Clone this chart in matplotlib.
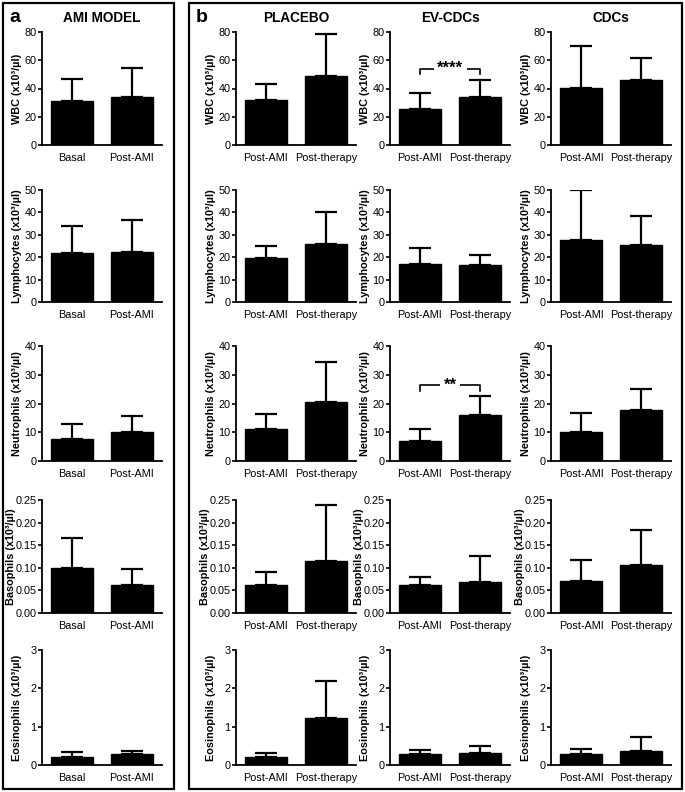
import numpy as np
import matplotlib
matplotlib.use('Agg')
import matplotlib.pyplot as plt
from matplotlib.patches import Rectangle

plt.rcParams['font.family'] = ['Liberation Sans', 'DejaVu Sans']

# row names / y-axis labels
cells = ['WBC', 'Lymphocytes', 'Neutrophils', 'Basophils', 'Eosinophils']
groups = ['AMI MODEL', 'PLACEBO', 'EV-CDCs', 'CDCs']
xlabels_a = ['Basal', 'Post-AMI']
xlabels_b = ['Post-AMI', 'Post-therapy']

# mean values (bar heights), order: cells x groups x [first, second]
means = {
    'AMI MODEL': [[31.5, 34.0], [22.0, 22.2], [7.7, 10.1], [0.099, 0.063], [0.20, 0.28]],
    'PLACEBO':   [[32.0, 48.5], [19.5, 25.7], [11.0, 20.6], [0.061, 0.115], [0.22, 1.22]],
    'EV-CDCs':   [[25.5, 34.3], [16.8, 16.6], [7.1, 16.1], [0.063, 0.069], [0.28, 0.31]],
    'CDCs':      [[40.2, 45.8], [27.6, 25.3], [10.2, 17.9], [0.070, 0.107], [0.28, 0.37]],
}
# top of the error bars
err_top = {
    'AMI MODEL': [[47.0, 54.5], [34.0, 36.7], [12.8, 15.6], [0.166, 0.097], [0.33, 0.37]],
    'PLACEBO':   [[43.0, 78.5], [25.0, 40.0], [16.4, 34.6], [0.091, 0.238], [0.32, 2.20]],
    'EV-CDCs':   [[37.0, 45.7], [23.9, 20.8], [11.2, 22.6], [0.080, 0.126], [0.38, 0.49]],
    'CDCs':      [[70.3, 61.6], [49.8, 38.4], [16.8, 25.1], [0.118, 0.184], [0.41, 0.72]],
}
ymax = [80, 50, 40, 0.25, 3]
ystep = [20, 10, 10, 0.05, 1]

# significance: (group, row) -> (bracket height, tick bottom, label)
signif = {('EV-CDCs', 0): (54.0, 50.5, '****'), ('EV-CDCs', 2): (26.4, 24.5, '**')}

W, H = 685, 792
fig = plt.figure(figsize=(W / 100, H / 100), dpi=100)

col_x = [42, 236, 390, 551]
rows_px = [(32, 145), (190, 302), (346, 461), (500, 613), (650, 765)]
ax_w = 120

for gi, g in enumerate(groups):
    for ri, cell in enumerate(cells):
        top, bot = rows_px[ri]
        ax = fig.add_axes([col_x[gi] / W, 1 - bot / H, ax_w / W, (bot - top) / H])
        m = np.array(means[g][ri])
        up = np.array(err_top[g][ri]) - m
        x = np.arange(2)
        ax.bar(x, m, width=0.7, color='black', edgecolor='black', zorder=2)
        ax.errorbar(x, m, yerr=[np.zeros(2), up], fmt='none', ecolor='black',
                    elinewidth=1.6, capsize=8, capthick=1.6, zorder=1)
        ax.set_xlim(-0.5, 1.5)
        ax.set_ylim(0, ymax[ri])
        ticks = np.arange(0, ymax[ri] + ystep[ri] / 2, ystep[ri])
        ax.set_yticks(ticks)
        if ri == 3:
            ax.set_yticklabels(['%.2f' % t for t in ticks])
        else:
            ax.set_yticklabels(['%d' % t for t in ticks])
        ax.set_xticks(x)
        ax.set_xticklabels(xlabels_a if gi == 0 else xlabels_b)
        ax.tick_params(axis='x', length=0, pad=6, labelsize=7.8)
        ax.tick_params(axis='y', length=3, width=1.2, pad=1, labelsize=7.8)
        for s in ['top', 'right']:
            ax.spines[s].set_visible(False)
        for s in ['left', 'bottom']:
            ax.spines[s].set_linewidth(1.3)
        ax.set_ylabel(cell + ' (x10³/µl)', fontweight='bold', fontsize=7.8)
        ax.yaxis.set_label_coords(-0.215 if ri == 3 else -0.165, 0.5)
        if (g, ri) in signif:
            yb, yt, lab = signif[(g, ri)]
            ax.plot([0, 0, 1, 1], [yt, yb, yb, yt], color='black', lw=1.2, clip_on=False)
            ax.text(0.5, yb, lab, ha='center', va='center', fontsize=12, fontweight='bold',
                    bbox=dict(facecolor='white', edgecolor='none', pad=2.5))
        if ri == 0:
            ax.text(0.5, 1.06, g, transform=ax.transAxes, ha='center', va='bottom',
                    fontsize=9.8, fontweight='bold')

# panel frames
fig.patches.append(Rectangle((3 / W, 3 / H), 171 / W, 786 / H, transform=fig.transFigure,
                             fill=False, edgecolor='black', lw=1.6))
fig.patches.append(Rectangle((189 / W, 3 / H), 493 / W, 786 / H, transform=fig.transFigure,
                             fill=False, edgecolor='black', lw=1.6))
fig.text(9 / W, 1 - 17 / H, 'a', fontsize=14, fontweight='bold', va='center')
fig.text(196 / W, 1 - 17 / H, 'b', fontsize=14, fontweight='bold', va='center')

fig.savefig('out.png', dpi=100)
